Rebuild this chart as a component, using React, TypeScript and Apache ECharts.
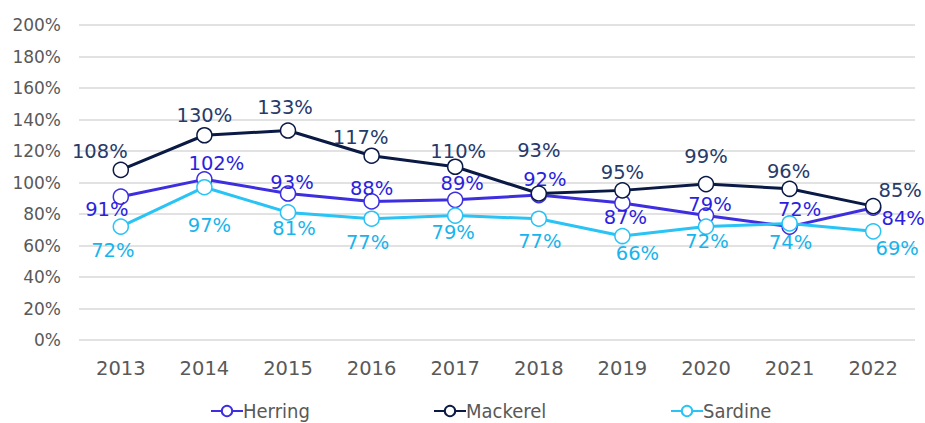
import React, { useEffect, useRef } from "react";
import * as echarts from "echarts";

const years = ["2013", "2014", "2015", "2016", "2017", "2018", "2019", "2020", "2021", "2022"];
const herring = [91, 102, 93, 88, 89, 92, 87, 79, 72, 84];
const mackerel = [108, 130, 133, 117, 110, 93, 95, 99, 96, 85];
const sardine = [72, 97, 81, 77, 79, 77, 66, 72, 74, 69];

// label offsets (pixels) from the point centre
const herringOff = [[-14, 13], [12, -16], [4, -11], [0, -13], [7, -16], [6, -16], [3, 15], [4, -11], [10, -17], [30, 11]];
const mackerelOff = [[-21, -18], [0, -20], [-3, -23], [-11, -18], [3, -15], [0, -43], [0, -18], [0, -28], [-1, -17], [27, -16]];
const sardineOff = [[-8, 24], [5, 38], [6, 16], [-4, 24], [-2, 17], [1, 23], [15, 17], [1, 15], [1, 19], [24, 17]];

const FONT = "'DejaVu Sans', sans-serif";
const FONT_C = "'DejaVu Sans Condensed', 'DejaVu Sans', sans-serif";

function mk(name: string, values: number[], offs: number[][], color: string, labelColor: string, z: number) {
  return {
    name,
    type: "line",
    z,
    symbol: "circle",
    symbolSize: 15,
    lineStyle: { color, width: 3 },
    itemStyle: { color: "#ffffff", borderColor: color, borderWidth: 1.5 },
    data: values.map((v, i) => ({
      value: v,
      label: {
        show: true,
        position: "inside",
        offset: offs[i],
        formatter: "{c}%",
        color: labelColor,
        fontSize: 19.5,
        fontFamily: FONT,
        align: "center",
        verticalAlign: "middle",
      },
    })),
  };
}

function lg(name: string, left: number) {
  return {
    left,
    top: 401,
    itemWidth: 32,
    itemHeight: 13,
    itemGap: 0,
    padding: 0,
    textStyle: { color: "#595959", fontSize: 20, fontFamily: FONT_C, padding: [0, 0, 0, -5] },
    data: [name],
  };
}

export default function App() {
  const ref = useRef<HTMLDivElement>(null);
  useEffect(() => {
    const chart = echarts.init(ref.current!, undefined, { renderer: "svg" });
    chart.setOption({
      animation: false,
      backgroundColor: "#ffffff",
      grid: { left: 79, right: 10, top: 25, bottom: 83 },
      legend: [lg("Herring", 210), lg("Mackerel", 433), lg("Sardine", 670)],
      xAxis: {
        type: "category",
        data: years,
        boundaryGap: true,
        axisLine: { show: false },
        axisTick: { show: false },
        axisLabel: { color: "#595959", fontSize: 19.5, fontFamily: FONT, margin: 18 },
      },
      yAxis: {
        type: "value",
        min: 0,
        max: 200,
        interval: 20,
        axisLine: { show: false },
        axisTick: { show: false },
        axisLabel: { color: "#595959", fontSize: 17, fontFamily: FONT, margin: 18, formatter: "{value}%" },
        splitLine: { lineStyle: { color: "#d9d9d9", width: 1.5 } },
      },
      series: [
        mk("Herring", herring, herringOff, "#3d2ee0", "#2b1fe0", 2),
        mk("Mackerel", mackerel, mackerelOff, "#0a1a45", "#273a6b", 3),
        mk("Sardine", sardine, sardineOff, "#29c3f5", "#18b4ec", 4),
      ],
    });
    return () => chart.dispose();
  }, []);
  return <div ref={ref} style={{ width: 925, height: 423, position: "absolute", left: 0, top: 0 }} />;
}
